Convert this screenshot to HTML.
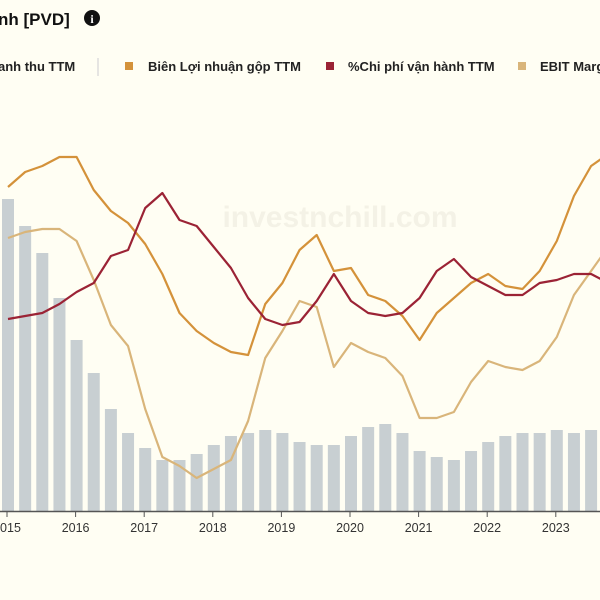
<!DOCTYPE html>
<html><head><meta charset="utf-8">
<style>
body{margin:0;background:#fffef3;font-family:"Liberation Sans",sans-serif;}
#wrap{position:relative;width:600px;height:600px;overflow:hidden;background:#fffef3;}
</style></head>
<body>
<div id="wrap">
<svg id="chart" width="600" height="600" xmlns="http://www.w3.org/2000/svg">
  <text x="-2" y="25" font-size="17" font-weight="bold" fill="#111" font-family="Liberation Sans, Noto Sans CJK JP, sans-serif">nh [PVD]</text>
  <g>
    <circle cx="92" cy="18" r="8" fill="#111"/>
    <text x="92" y="23" font-size="12" font-weight="bold" fill="#fff" text-anchor="middle" font-family="Liberation Serif, serif">i</text>
  </g>
  <g font-size="13" font-weight="bold" fill="#222" font-family="Liberation Sans, Noto Sans CJK JP, sans-serif">
    <text x="-2" y="71">anh thu TTM</text>
    <line x1="98" y1="58" x2="98" y2="76" stroke="#ddd" stroke-width="1.5"/>
    <rect x="125" y="62" width="8" height="8" fill="#d4923a"/>
    <text x="148" y="71">Biên Lợi nhuận gộp TTM</text>
    <rect x="326" y="62" width="8" height="8" fill="#9b2335"/>
    <text x="348" y="71">%Chi phí vận hành TTM</text>
    <rect x="518" y="62" width="8" height="8" fill="#d9b57a"/>
    <text x="540" y="71">EBIT Margin TTM</text>
  </g>
  <text x="340" y="227" font-size="30" font-weight="bold" fill="#f4f2e6" text-anchor="middle">investnchill.com</text>
  <g id="bars"></g>
  <g id="lines"></g>
  <g id="axis"></g>
</svg>
</div>
<script>
const years = ["2015","2016","2017","2018","2019","2020","2021","2022","2023"];
const revenue = [104,95,86,71,57,46,34,26,21,17,17,19,22,25,26,27,26,23,22,22,25,28,29,26,20,18,17,20,23,25,26,26,27,26,27];
const grossMargin = [108,113,115,118,118,107,100,96,89,79,66,60,56,53,52,69,76,87,92,80,81,72,70,65,57,66,71,76,79,75,74,80,90,105,115,119];
const opexRatio = [64,65,66,69,73,76,85,87,101,106,97,95,88,81,71,64,62,63,70,79,70,66,65,66,71,80,84,78,75,72,72,76,77,79,79,76];
const ebitMargin = [91,93,94,94,90,77,62,55,34,18,15,11,14,17,30,51,60,70,68,48,56,53,51,45,31,31,33,43,50,48,47,50,58,72,80,88];

const NS="http://www.w3.org/2000/svg";
const x0=8, step=17.15, base=511, k=3;
const xs=i=>x0+step*i;
const ys=v=>base-v*k;
const barsG=document.getElementById('bars');
revenue.forEach((v,i)=>{
  const r=document.createElementNS(NS,'rect');
  r.setAttribute('x',xs(i)-6);r.setAttribute('y',ys(v));
  r.setAttribute('width',12);r.setAttribute('height',v*k);
  r.setAttribute('fill','#c8cfd2');
  
  
  barsG.appendChild(r);
});
const linesG=document.getElementById('lines');
function line(arr,color,name){
  const p=document.createElementNS(NS,'polyline');
  p.setAttribute('points',arr.map((v,i)=>xs(i)+','+ys(v)).join(' '));
  p.setAttribute('fill','none');p.setAttribute('stroke',color);p.setAttribute('stroke-width','2.2');
  p.setAttribute('stroke-linejoin','round');
  
  
  linesG.appendChild(p);
}
line(ebitMargin,'#d9b57a','ebit-margin-line');
line(grossMargin,'#d4923a','gross-margin-line');
line(opexRatio,'#9b2335','opex-ratio-line');
const ax=document.getElementById('axis');
const al=document.createElementNS(NS,'line');
al.setAttribute('x1',0);al.setAttribute('x2',600);al.setAttribute('y1',base+0.5);al.setAttribute('y2',base+0.5);
al.setAttribute('stroke','#555');al.setAttribute('stroke-width','1.5');


ax.appendChild(al);
years.forEach((y,j)=>{
  const x=xs(j*4)-1;
  const t=document.createElementNS(NS,'line');
  t.setAttribute('x1',x);t.setAttribute('x2',x);t.setAttribute('y1',base);t.setAttribute('y2',base+6);
  t.setAttribute('stroke','#555');
  
  
  ax.appendChild(t);
  const l=document.createElementNS(NS,'text');
  l.setAttribute('x',x);l.setAttribute('y',base+21);l.setAttribute('text-anchor','middle');
  l.setAttribute('font-size','12.5');l.setAttribute('fill','#333');
  l.textContent=y;
  
  
  ax.appendChild(l);
});
</script>
</body></html>
